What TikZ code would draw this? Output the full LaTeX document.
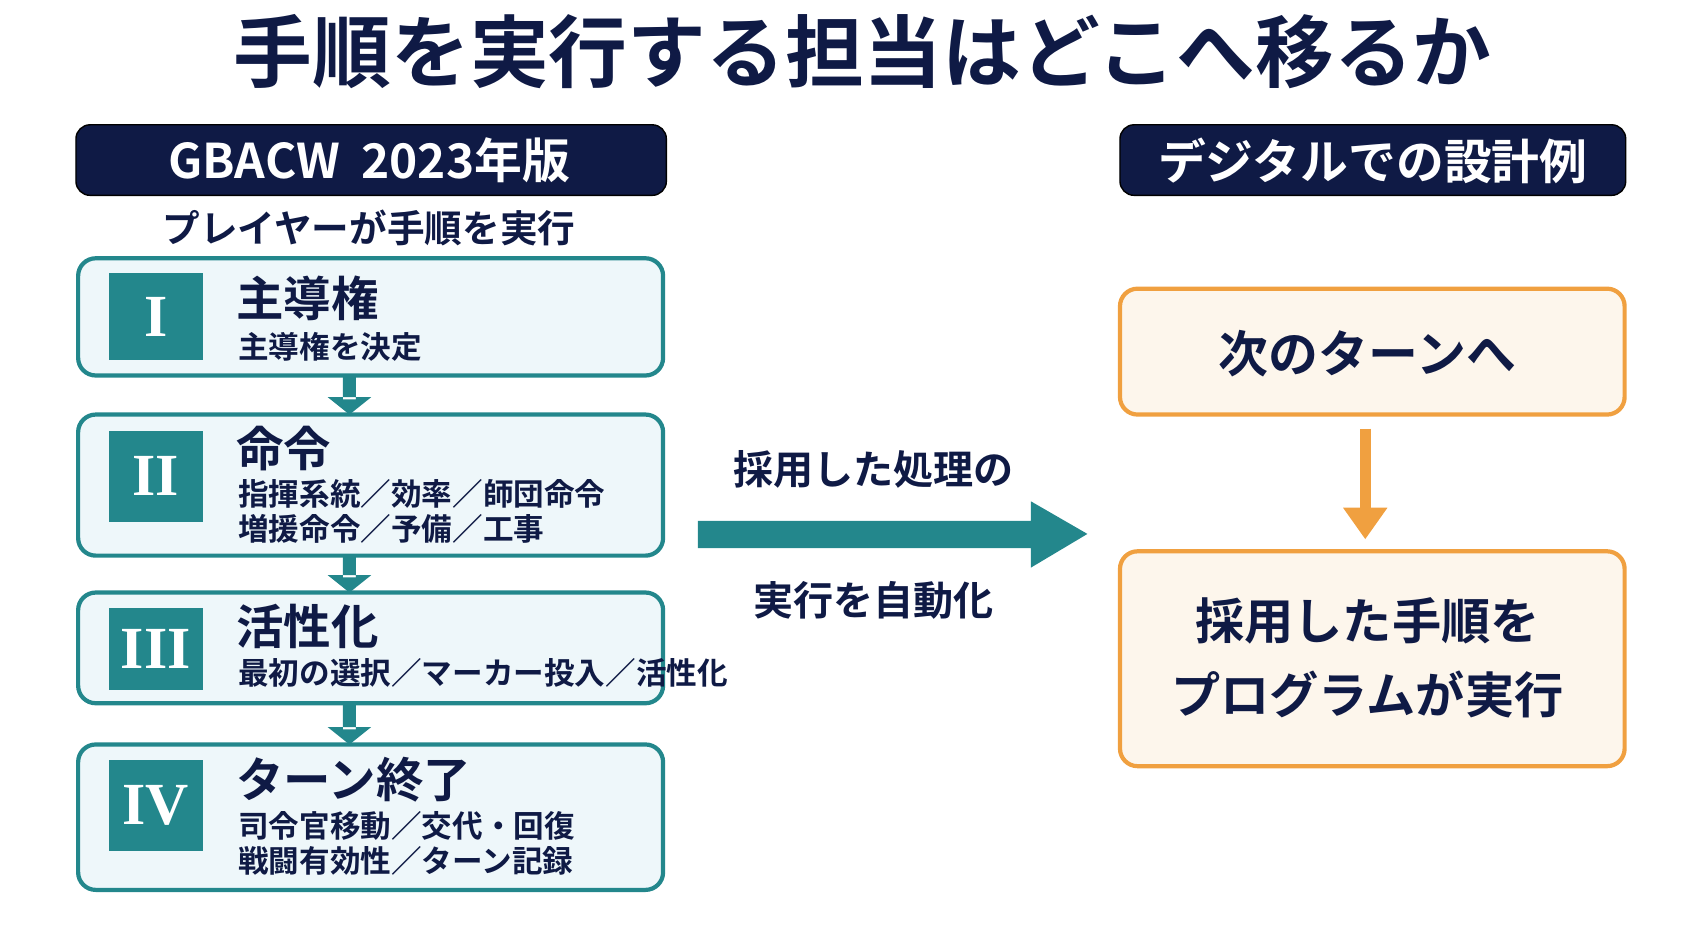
\documentclass[tikz,border=0pt]{standalone}
\usepackage{fontspec}
\setmainfont{Noto Sans CJK JP}[BoldFont={* Bold}]
\newfontfamily\numfont{Liberation Serif}
\usetikzlibrary{positioning,arrows.meta}
\definecolor{navy}{HTML}{0F1A45}
\definecolor{teal}{HTML}{23878C}
\definecolor{paleblue}{HTML}{EEF7FA}
\definecolor{orange}{HTML}{F0A040}
\definecolor{paleorange}{HTML}{FDF6EC}
\tikzset{
  header/.style={fill=navy, rounded corners=4pt},
  phase/.style={draw=teal, line width=1.2pt, fill=paleblue, rounded corners=5pt},
  ptitle/.style={anchor=west, inner sep=0pt, text=navy, font=\bfseries\fontsize{13.5}{15}\selectfont},
  psub/.style={anchor=west, inner sep=0pt, text=navy, align=left, font=\bfseries\fontsize{8.7}{10}\selectfont},
  digital/.style={draw=orange, line width=1.2pt, fill=paleorange, rounded corners=5pt},
}
\begin{document}
\begin{tikzpicture}[x=0.010853cm, y=-0.010853cm]
\useasboundingbox (0,0) rectangle (1560,856);
% title
\node[text=navy, font=\bfseries\fontsize{22.4}{24}\selectfont] (title) at (795,48) {手順を実行する担当はどこへ移るか};
% left column
\draw[header] (70,115) rectangle (614,180);
\node[text=white, font=\bfseries\fontsize{13.6}{15}\selectfont] (hleft) at (340,148) {GBACW\ \ 2023年版};
\node[text=navy, font=\bfseries\fontsize{10.7}{12}\selectfont] (who) at (340,210) {プレイヤーが手順を実行};
\foreach \n/\top/\bot/\nt/\nb/\num/\ty in {1/238/346/252/332/I/275, 2/382/512/397/481/II/413, 3/546/648/560/636/III/577, 4/686/820/700/784/IV/718}{
  \draw[phase] (72,\top) rectangle (611,\bot);
  \fill[teal] (100,\nt) rectangle (187,\nb);
  \node[text=white, font=\numfont\bfseries\fontsize{17}{17}\selectfont] (num\n) at (143.5,{(\nt+\nb)/2}) {\num};
  \coordinate (ph\n) at (217,\ty);
}
\node[ptitle] (t1) at (ph1) {主導権};
\node[psub] (s1) at (219,320) {主導権を決定};
\node[ptitle] (t2) at (ph2) {命令};
\node[psub] (s2) at (219,471) {指揮系統／効率／師団命令\\増援命令／予備／工事};
\node[ptitle] (t3) at (ph3) {活性化};
\node[psub] (s3) at (219,620) {最初の選択／マーカー投入／活性化};
\node[ptitle] (t4) at (ph4) {ターン終了};
\node[psub] (s4) at (219,777) {司令官移動／交代・回復\\戦闘有効性／ターン記録};
% small arrows between phases
\foreach \a/\b in {346/382, 512/546, 648/686}{
  \fill[teal] (316,\a) rectangle (328,{\b-14}) (302,{\b-16}) -- (342,{\b-16}) -- (322,\b) -- cycle;
}
% middle arrow
\fill[teal] (643,480) -- (950,480) -- (950,462) -- (1002,492) -- (950,523) -- (950,505) -- (643,505) -- cycle;
\node[text=navy, font=\bfseries\fontsize{11.4}{13}\selectfont] (m1) at (805,433) {採用した処理の};
\node[text=navy, font=\bfseries\fontsize{11.4}{13}\selectfont] (m2) at (805,553) {実行を自動化};
% right column
\draw[header] (1032,115) rectangle (1498,180);
\node[text=white, font=\bfseries\fontsize{13.6}{15}\selectfont] (hright) at (1265,148) {デジタルでの設計例};
\draw[digital] (1032,266) rectangle (1497,382);
\node[text=navy, font=\bfseries\fontsize{14.2}{16}\selectfont] (next) at (1260,326) {次のターンへ};
\draw[digital] (1032,508) rectangle (1497,706);
\node[text=navy, align=center, font=\bfseries\fontsize{14}{21}\selectfont] (prog) at (1260,606) {採用した手順を\\プログラムが実行};
\draw[orange, line width=3pt, -{Triangle[width=12pt,length=9pt]}] (1258,395) -- (1258,497);
\end{tikzpicture}
\end{document}
